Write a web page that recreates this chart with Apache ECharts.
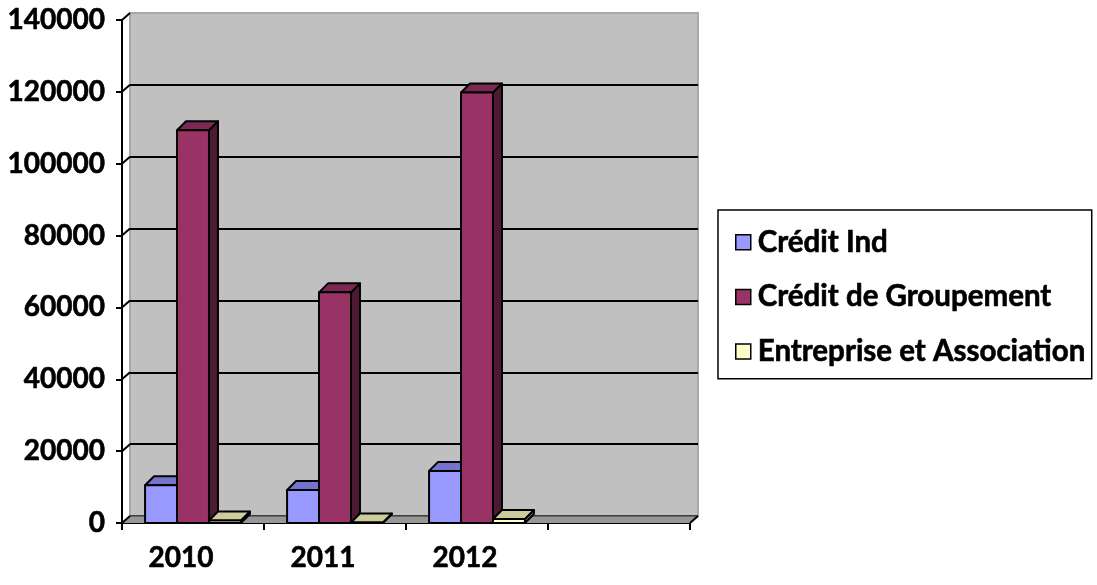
<!DOCTYPE html>
<html>
<head>
<meta charset="utf-8">
<script src="https://cdn.jsdelivr.net/npm/echarts/dist/echarts.min.js"></script>
<style>
  html, body { margin: 0; padding: 0; background: #fff; }
  #chart { width: 1097px; height: 585px; }
</style>
</head>
<body>
<div id="chart"></div>
<script>
// Category slots on the x axis (the last slot is left empty)
const categories = ['2010', '2011', '2012', ''];

// Series values per year
const creditInd = [10500, 9200, 14500];
const creditGroupement = [109300, 64200, 119800];
const entrepriseAssociation = [700, 150, 1100];

const seriesNames = ['Crédit Ind', 'Crédit de Groupement', 'Entreprise et Association'];

// Value axis range
const yMin = 0;
const yMax = 140000;
const yStep = 20000;

// Face colours of each 3D column: front, top, right side
const palettes = [
  { front: '#9999FF', top: '#7474CC', side: '#5C5CA6' },
  { front: '#993366', top: '#7A2952', side: '#4D1A33' },
  { front: '#FFFFCC', top: '#CCCC9E', side: '#99997A' }
];

const DEPTH = [9, -9];   // column depth offset (px)
const WALL = [8, -7];    // back wall offset relative to the front axes (px)
const FONT = 'Lato, "Open Sans", sans-serif';
const heavy = { textBorderColor: '#000', textBorderWidth: 0.6 };

const edge = { stroke: '#000', lineWidth: 2, lineJoin: 'round' };

// Draws one column as a pseudo-3D box: side, top, then front face
function boxRenderer(idx) {
  return function (params, api) {
    const cat = api.value(0);
    const v = api.value(1);
    const band = api.size([1, 0])[0];
    const w = band * 0.225;
    const top = api.coord([cat, v]);
    const base = api.coord([cat, 0]);
    const x0 = top[0] - 1.5 * w + idx * w;
    const x1 = x0 + w;
    const yT = top[1];
    const yB = base[1];
    const dx = DEPTH[0], dy = DEPTH[1];
    const pal = palettes[idx];
    return {
      type: 'group',
      children: [
        { type: 'polygon', shape: { points: [[x1, yT], [x1 + dx, yT + dy], [x1 + dx, yB + dy], [x1, yB]] },
          style: Object.assign({ fill: pal.side }, edge) },
        { type: 'polygon', shape: { points: [[x0, yT], [x0 + dx, yT + dy], [x1 + dx, yT + dy], [x1, yT]] },
          style: Object.assign({ fill: pal.top }, edge) },
        { type: 'rect', shape: { x: x0, y: yT, width: w, height: yB - yT },
          style: Object.assign({ fill: pal.front }, edge) }
      ]
    };
  };
}

// Floor and the diagonal connectors between the front axes and the back wall
function frameRenderer(params, api) {
  const band = api.size([1, 0])[0];
  const left = api.coord([0, 0])[0] - band / 2;
  const right = api.coord([categories.length - 1, 0])[0] + band / 2;
  const y0 = api.coord([0, 0])[1];
  const wx = WALL[0], wy = WALL[1];
  const children = [
    { type: 'polygon', shape: { points: [[left, y0], [right, y0], [right + wx, y0 + wy], [left + wx, y0 + wy]] },
      style: { fill: '#979797' } },
    { type: 'line', shape: { x1: left + wx, y1: y0 + wy, x2: right + wx, y2: y0 + wy },
      style: { stroke: '#555', lineWidth: 1.5 } },
    { type: 'line', shape: { x1: right, y1: y0, x2: right + wx, y2: y0 + wy },
      style: { stroke: '#000', lineWidth: 2 } }
  ];
  for (let t = yMin; t <= yMax; t += yStep) {
    const y = api.coord([0, t])[1];
    children.push({ type: 'line', shape: { x1: left, y1: y, x2: left + wx, y2: y + wy },
      style: { stroke: '#000', lineWidth: 2 } });
  }
  return { type: 'group', children: children };
}

function toPairs(arr) { return arr.map((v, i) => [i, v]); }

const seriesData = [creditInd, creditGroupement, entrepriseAssociation];

const chart = echarts.init(document.getElementById('chart'), null, { renderer: 'canvas' });

const grid = { left: 122, top: 20, width: 568, height: 503 };

chart.setOption({
  animation: false,
  backgroundColor: '#fff',
  grid: [
    Object.assign({ show: false }, grid),
    { left: grid.left + WALL[0], top: grid.top + WALL[1], width: grid.width, height: grid.height,
      show: true, backgroundColor: '#C0C0C0', borderColor: '#A8A8A8', borderWidth: 2 }
  ],
  xAxis: [
    {
      type: 'category', gridIndex: 0, data: categories, boundaryGap: true,
      axisLine: { show: true, lineStyle: { color: '#000', width: 2 } },
      axisTick: { show: true, length: 7, lineStyle: { color: '#000', width: 2 } },
      axisLabel: Object.assign({ color: '#000', fontFamily: FONT, fontWeight: 'bold', fontSize: 28, margin: 21,
                   padding: [0, 24, 0, 0] }, heavy)
    },
    { type: 'category', gridIndex: 1, data: categories, show: false }
  ],
  yAxis: [
    {
      type: 'value', gridIndex: 0, min: yMin, max: yMax, interval: yStep,
      axisLine: { show: true, lineStyle: { color: '#000', width: 2 } },
      axisTick: { show: true, length: 6, lineStyle: { color: '#000', width: 2 } },
      axisLabel: Object.assign({ color: '#000', fontFamily: FONT, fontWeight: 'bold', fontSize: 28, margin: 17,
                   formatter: (v) => String(v) }, heavy),
      splitLine: { show: false }
    },
    {
      type: 'value', gridIndex: 1, min: yMin, max: yMax, interval: yStep,
      axisLine: { show: false }, axisTick: { show: false }, axisLabel: { show: false },
      splitLine: { show: true, showMaxLine: false, lineStyle: { color: '#000', width: 2 } }
    }
  ],
  legend: {
    orient: 'vertical', left: 718, top: 210,
    padding: [17, 6, 12, 17], itemGap: 24, itemWidth: 15, itemHeight: 15,
    icon: 'rect',
    itemStyle: { borderColor: '#000', borderWidth: 1.5 },
    textStyle: Object.assign({ color: '#000', fontFamily: FONT, fontWeight: 'bold', fontSize: 29.5, lineHeight: 30,
                 padding: [0, 0, 0, 2] }, heavy),
    borderColor: '#000', borderWidth: 1.5, backgroundColor: '#fff',
    data: seriesNames
  },
  series: [
    { type: 'custom', name: '__frame', silent: true, xAxisIndex: 0, yAxisIndex: 0, z: 1,
      renderItem: frameRenderer, data: [[0, 0]] }
  ].concat(seriesData.map((arr, i) => ({
    type: 'custom', name: seriesNames[i], xAxisIndex: 0, yAxisIndex: 0, z: 3 + i,
    itemStyle: { color: palettes[i].front },
    renderItem: boxRenderer(i),
    encode: { x: 0, y: 1 },
    data: toPairs(arr)
  })))
});
</script>
</body>
</html>
